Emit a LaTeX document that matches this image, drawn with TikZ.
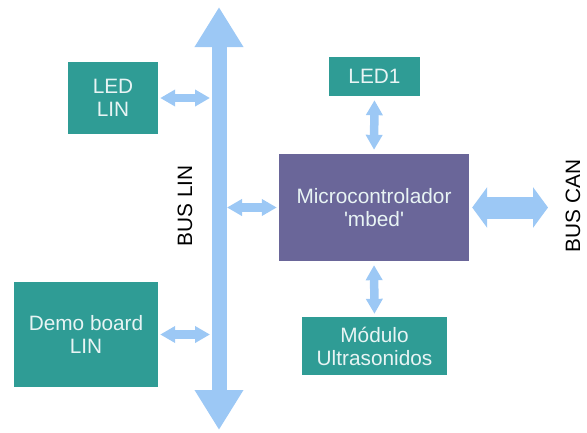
\documentclass[tikz,border=0pt]{standalone}
\usepackage{fontspec}
\setmainfont{Liberation Sans}
\usetikzlibrary{arrows.meta}
\definecolor{tealbox}{HTML}{2F9C95}
\definecolor{mbedbox}{HTML}{6A6699}
\definecolor{busblue}{HTML}{9CC8F5}
\definecolor{boxtext}{HTML}{E8F4F4}
\begin{document}
\begin{tikzpicture}[x=1pt, y=-1pt, font=\fontsize{20.8}{23}\selectfont,
  box/.style={fill=tealbox, text=boxtext, inner sep=0pt, align=center},
  link/.style={busblue, line width=8.5pt, {Triangle[length=15pt,width=16pt]}-{Triangle[length=15pt,width=16pt]}}]
  \useasboundingbox (0,0) rectangle (587,432);
  % bloques
  \node[box, minimum width=90pt, minimum height=72pt] (ledlin) at (113,98) {LED\\LIN};
  \node[box, minimum width=91pt, minimum height=39pt] (led1) at (374.5,76.5) {LED1};
  \node[box, fill=mbedbox, minimum width=190pt, minimum height=107pt] (mbed) at (374,207.5) {Microcontrolador\\\textquotesingle mbed\textquotesingle};
  \node[box, minimum width=144pt, minimum height=105pt] (demo) at (86,334.5) {Demo board\\LIN};
  \node[box, minimum width=145pt, minimum height=58pt] (ultra) at (374.5,346) {Módulo\\Ultrasonidos};

  % BUS LIN
  \coordinate (busT) at (219,7);
  \coordinate (busB) at (219,430);
  \draw[busblue, line width=15pt, {Triangle[length=40pt,width=46pt]}-{Triangle[length=40pt,width=46pt]}] (busT) -- (busB);
  \node[rotate=90] (buslin) at (185,206) {BUS LIN};

  % BUS CAN
  \coordinate (can) at (548,207.5);
  \draw[busblue, line width=22pt, {Triangle[length=15pt,width=40pt]}-{Triangle[length=15pt,width=40pt]}, shorten <=3pt] (mbed.east) -- (can);
  \node[rotate=90] (buscan) at (573,206) {BUS CAN};

  % conexiones
  \draw[link, shorten <=2pt, shorten >=9pt] (ledlin.east) -- (ledlin.east -| busT);
  \draw[link, shorten <=2pt, shorten >=9pt] (demo.east) -- (demo.east -| busT);
  \draw[link, shorten <=2pt, shorten >=8pt] (mbed.west) -- (mbed.west -| busT);
  \draw[link, shorten <=4pt, shorten >=4pt] (led1.south) -- (mbed.north);
  \draw[link, shorten <=4pt, shorten >=3pt] (mbed.south) -- (ultra.north);
\end{tikzpicture}
\end{document}
